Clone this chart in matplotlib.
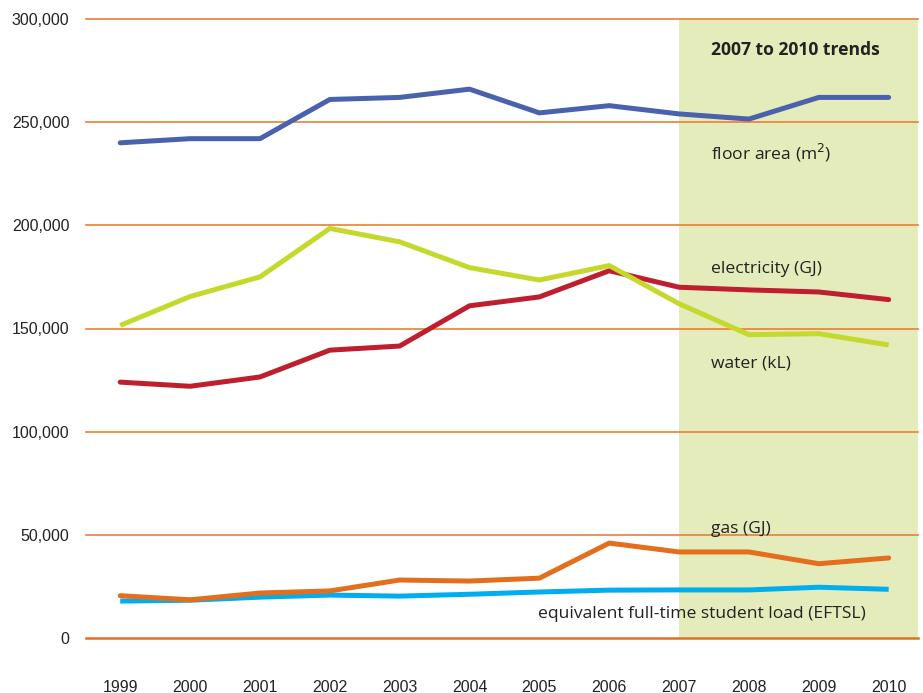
import matplotlib
matplotlib.use("Agg")
import matplotlib.pyplot as plt
from matplotlib.ticker import FuncFormatter

years = ["1999", "2000", "2001", "2002", "2003", "2004",
         "2005", "2006", "2007", "2008", "2009", "2010"]
floor_area = [240000, 242000, 242000, 261000, 262000, 266000,
              254500, 258000, 254000, 251500, 262000, 262000]
water = [151500, 165500, 175000, 198500, 192000, 179500,
         173500, 180500, 162000, 147000, 147500, 142000]
electricity = [124000, 122000, 126500, 139500, 141500, 161000,
               165300, 178000, 170000, 168700, 167700, 164000]
gas = [20500, 18500, 21800, 22800, 28100, 27600,
       29000, 46000, 41700, 41700, 36000, 38800]
eftsl = [17900, 18300, 19800, 20800, 20300, 21200,
         22300, 23200, 23300, 23300, 24600, 23600]

fig = plt.figure(figsize=(9.23, 6.93), dpi=100)
ax = fig.add_axes([86 / 923, 1 - 638 / 693, (918 - 86) / 923, (638 - 19) / 693])

x = range(len(years))
ax.axvspan(8, 11.42, color="#e5ecbb", zorder=0, lw=0)

for v in range(0, 300001, 50000):
    if v == 0:
        ax.axhline(v, color="#e2701f", lw=1.8, zorder=1, clip_on=False)
    else:
        ax.axhline(v, color="#ea7f36", lw=1.2, zorder=1, clip_on=False)

lw = 3.6
ax.plot(x, eftsl, color="#00aeef", lw=lw, solid_capstyle="butt", zorder=3)
ax.plot(x, gas, color="#e36f1e", lw=lw, solid_capstyle="round", zorder=4)
ax.plot(x, electricity, color="#be1e2d", lw=lw, solid_capstyle="round", zorder=3)
ax.plot(x, water, color="#c5d92d", lw=lw, solid_capstyle="butt", zorder=4)
ax.plot(x, floor_area, color="#4a61ae", lw=lw, solid_capstyle="round", zorder=3)

ax.set_xlim(-0.49, 11.42)
ax.set_ylim(0, 300000)
for s in ax.spines.values():
    s.set_visible(False)

ax.set_xticks(list(x))
ax.set_xticklabels(years)
ax.set_yticks(range(0, 300001, 50000))
ax.yaxis.set_major_formatter(FuncFormatter(lambda v, p: f"{int(v):,}"))
ax.tick_params(axis="x", length=0, pad=30, labelsize=11.5, labelcolor="#222222")
ax.tick_params(axis="y", length=0, pad=12, labelsize=11.5, labelcolor="#222222")
for t in ax.get_xticklabels() + ax.get_yticklabels():
    t.set_family("Liberation Sans")

txt = dict(fontsize=12.6, color="#222222", va="center", ha="left", family="Open Sans", zorder=6)
ax.text(8.45, 285000, "2007 to 2010 trends", fontweight="bold", **txt)
ax.text(8.45, 235000, "floor area (m$^2$)", **txt)
ax.text(8.45, 179000, "electricity (GJ)", **txt)
ax.text(8.45, 133000, "water (kL)", **txt)
ax.text(8.45, 53000, "gas (GJ)", **txt)
ax.text(5.98, 11500, "equivalent full-time student load (EFTSL)", **txt)

fig.savefig("out.png", dpi=100)
